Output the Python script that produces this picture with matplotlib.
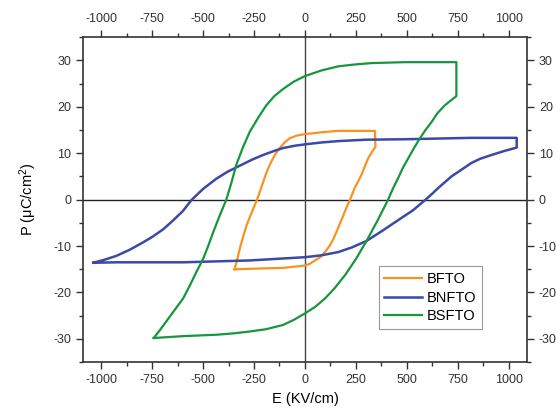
import matplotlib
matplotlib.use("Agg")
import matplotlib.pyplot as plt
from matplotlib.ticker import MultipleLocator

plt.rcParams["font.family"] = ["Liberation Sans", "DejaVu Sans"]
plt.rcParams["mathtext.fontset"] = "custom"
plt.rcParams["mathtext.rm"] = "Liberation Sans"
plt.rcParams["mathtext.default"] = "regular"
plt.rcParams["axes.unicode_minus"] = False

# BFTO loop (E in kV/cm, P in uC/cm2)
bfto_e = [-345, -332, -320, -305, -288, -270, -255, -235, -215, -198, -182, -165, -145, -124,
          -100, -75, -40, 0, 80, 163, 343, 346, 328, 310, 294, 278, 262, 245, 221, 198, 180,
          160, 139, 120, 98, 75, 49, 25, 0, -108, -271, -345]
bfto_p = [-15.0, -12.8, -10.6, -8.2, -5.7, -3.7, -2.1, 0, 2.5, 4.7, 6.6, 8.2, 9.8, 11.1,
          12.3, 13.2, 13.8, 14.1, 14.5, 14.8, 14.8, 11.4, 10.2, 8.9, 7.2, 5.4, 4.0, 2.6, 0, -2.3, -4.3,
          -6.4, -8.5, -10.0, -11.3, -12.4, -13.1, -13.8, -14.2, -14.7, -14.9, -15.0]

# BNFTO loop
bnfto_e = [-1039, -980, -925, -860, -794, -745, -696, -650, -600, -555, -500, -435, -380, -320,
           -260, -206, -150, -108, -50, 0, 80, 163, 300, 490, 817, 1039, 1039, 980, 915, 860,
           817, 770, 719, 685, 654, 620, 592, 530, 458, 380, 302, 230, 163, 80, 0, -271, -598,
           -925, -1039]
bnfto_p = [-13.6, -12.9, -12.1, -10.8, -9.2, -7.9, -6.4, -4.6, -2.5, 0, 2.3, 4.5, 6.0, 7.3,
           8.6, 9.6, 10.5, 11.1, 11.6, 11.9, 12.3, 12.6, 12.9, 13.0, 13.3, 13.3, 11.2, 10.5, 9.6, 8.8,
           7.9, 6.5, 5.0, 3.7, 2.5, 1.1, 0, -2.3, -4.4, -6.7, -8.9, -10.3, -11.3, -12.0, -12.4, -13.1, -13.5,
           -13.5, -13.6]

# BSFTO loop
bsfto_e = [-742, -710, -680, -640, -598, -565, -533, -500, -475, -451, -420, -386, -360, -337,
           -305, -271, -230, -190, -150, -108, -55, 0, 80, 163, 245, 327, 490, 743, 743, 686,
           650, 621, 590, 564, 535, 507, 480, 458, 432, 408, 355, 302, 250, 196, 145, 98, 50, 0,
           -55, -108, -190, -271, -350, -435, -598, -742]
bsfto_p = [-29.8, -28.0, -26.2, -23.8, -21.3, -18.5, -15.6, -12.8, -10.0, -7.1, -3.6, 0, 3.8, 7.5,
           11.2, 14.6, 17.6, 20.3, 22.3, 23.8, 25.4, 26.6, 27.8, 28.7, 29.1, 29.4, 29.6, 29.6, 22.3, 20.3,
           18.6, 16.7, 14.9, 13.2, 11.1, 8.9, 6.8, 4.7, 2.4, 0, -4.6, -8.9, -12.8, -16.3, -19.1, -21.3, -23.1, -24.5,
           -25.9, -27.0, -27.9, -28.4, -28.8, -29.1, -29.4, -29.8]

fig = plt.figure(figsize=(5.56, 4.12), dpi=100)
ax = fig.add_axes([0.149, 0.121, 0.799, 0.789])

ax.axhline(0, color="#222222", lw=1.0, zorder=1)
ax.axvline(0, color="#444444", lw=1.0, zorder=1)

ax.plot(bfto_e, bfto_p, color="#f7931e", lw=1.6, label="BFTO", solid_joinstyle="round")
ax.plot(bnfto_e, bnfto_p, color="#3a4aa6", lw=1.8, label="BNFTO", solid_joinstyle="round")
ax.plot(bsfto_e, bsfto_p, color="#17963c", lw=1.6, label="BSFTO", solid_joinstyle="round")

ax.set_xlim(-1090, 1090)
ax.set_ylim(-35, 35)
ax.xaxis.set_major_locator(MultipleLocator(250))
ax.xaxis.set_minor_locator(MultipleLocator(125))
ax.yaxis.set_major_locator(MultipleLocator(10))
ax.yaxis.set_minor_locator(MultipleLocator(5))
ax.tick_params(which="both", direction="out", top=True, right=True,
               labeltop=True, labelright=True, labelsize=9, colors="#333333")
ax.tick_params(which="major", length=5, width=1.0)
ax.tick_params(which="minor", length=3, width=1.0)
for s in ax.spines.values():
    s.set_color("#333333")
    s.set_linewidth(1.2)

ax.set_xlabel("E (KV/cm)", fontsize=10.5, labelpad=4)
ax.set_ylabel("P (μC/cm$^{2}$)", fontsize=10.5, labelpad=10)

leg = ax.legend(loc="lower right", bbox_to_anchor=(0.915, 0.08), fontsize=10.5,
                fancybox=False, framealpha=1, edgecolor="#999999",
                handlelength=2.6, borderpad=0.4, labelspacing=0.3, handletextpad=0.3)
leg.get_frame().set_linewidth(0.8)

fig.savefig("out.png", dpi=100)
